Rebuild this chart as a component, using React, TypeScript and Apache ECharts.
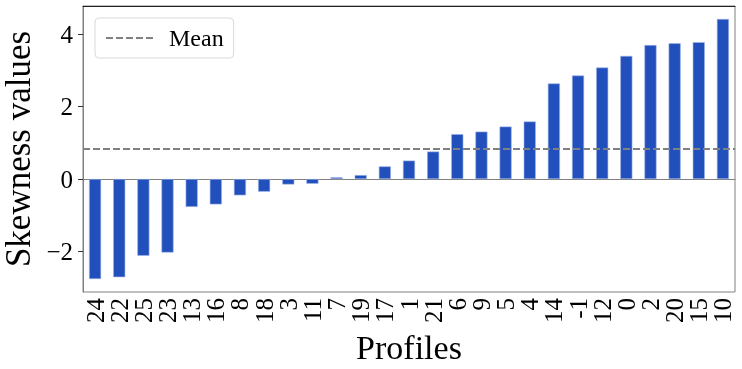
import React, { useEffect, useRef } from "react";
import * as echarts from "echarts";

const profiles = ["24", "22", "25", "23", "13", "16", "8", "18", "3", "11", "7", "19", "17", "1", "21", "6", "9", "5", "4", "14", "-1", "12", "0", "2", "20", "15", "10"];
const skewness = [-2.76, -2.71, -2.12, -2.03, -0.77, -0.70, -0.45, -0.35, -0.15, -0.13, 0.05, 0.11, 0.35, 0.51, 0.76, 1.24, 1.31, 1.45, 1.59, 2.64, 2.86, 3.08, 3.40, 3.70, 3.75, 3.78, 4.42];
const yTicks = [-2, 0, 2, 4];

const FONT = "Liberation Serif";

export default function App() {
  const ref = useRef<HTMLDivElement>(null);
  useEffect(() => {
    if (!ref.current) return;
    const chart = echarts.init(ref.current, undefined, { renderer: "svg" });
    const mean = skewness.reduce((a, b) => a + b, 0) / skewness.length;
    const dmin = Math.min(...skewness);
    const dmax = Math.max(...skewness);
    const pad = (dmax - dmin) * 0.05;
    chart.setOption({
      animation: false,
      textStyle: { fontFamily: FONT },
      grid: {
        left: 83, right: 7, top: 6, bottom: 77,
        containLabel: false, outerBoundsMode: "none",
        show: true, borderColor: "#808080", borderWidth: 1,
      },
      legend: {
        data: ["Mean"],
        left: 95,
        top: 18,
        padding: [8, 10, 8, 10],
        borderColor: "#d9d9d9",
        borderWidth: 1,
        borderRadius: 4,
        backgroundColor: "#ffffff",
        itemWidth: 47,
        itemHeight: 2,
        textStyle: { fontFamily: FONT, fontSize: 24, color: "#000", padding: [0, 0, 0, 11] },
      },
      xAxis: [
        {
          type: "category",
          data: profiles,
          boundaryGap: true,
          name: "Profiles",
          nameLocation: "middle",
          nameGap: 37,
          nameTextStyle: { fontFamily: FONT, fontSize: 34, color: "#000" },
          axisLine: { lineStyle: { color: "#808080", width: 1 } },
          axisTick: { alignWithLabel: true, length: 5, lineStyle: { color: "#333" } },
          axisLabel: { rotate: 90, fontFamily: FONT, fontSize: 25, color: "#000", margin: 6, interval: 0 },
          splitLine: { show: false },
        },
        {
          type: "category",
          data: profiles,
          position: "top",
          axisLine: { show: true, lineStyle: { color: "#222", width: 1 } },
          axisTick: { show: false },
          axisLabel: { show: false },
          splitLine: { show: false },
        },
      ],
      yAxis: {
        type: "value",
        min: dmin - pad,
        max: dmax + pad,
        name: "Skewness values",
        nameLocation: "middle",
        nameGap: 44,
        nameTextStyle: { fontFamily: FONT, fontSize: 35, color: "#000" },
        axisLine: { show: true, lineStyle: { color: "#808080", width: 1 } },
        axisTick: { show: true, length: 5, lineStyle: { color: "#333" }, customValues: yTicks },
        axisLabel: {
          fontFamily: FONT,
          fontSize: 25,
          color: "#000",
          margin: 10,
          customValues: yTicks,
          formatter: (v: number) => (v < 0 ? "\u2212" + Math.abs(v) : String(v)),
        },
        splitLine: { show: false },
      },
      series: [
        {
          type: "bar",
          name: "Skewness",
          data: skewness,
          barWidth: "50%",
          itemStyle: { color: "#2150bd", borderColor: "#9fb3e6", borderWidth: 0.6 },
          markLine: {
            silent: true,
            symbol: ["none", "none"],
            label: { show: false },
            lineStyle: { color: "#808080", type: [7, 3], width: 2 },
            data: [{ yAxis: mean }],
          },
        },
        {
          type: "line",
          name: "Mean",
          data: [],
          symbol: "none",
          lineStyle: { color: "#808080", type: [7, 3], width: 2 },
          itemStyle: { color: "#808080" },
        },
      ],
    });
    return () => chart.dispose();
  }, []);
  return <div ref={ref} style={{ position: "fixed", left: 0, top: 0, width: 742, height: 369 }} />;
}
